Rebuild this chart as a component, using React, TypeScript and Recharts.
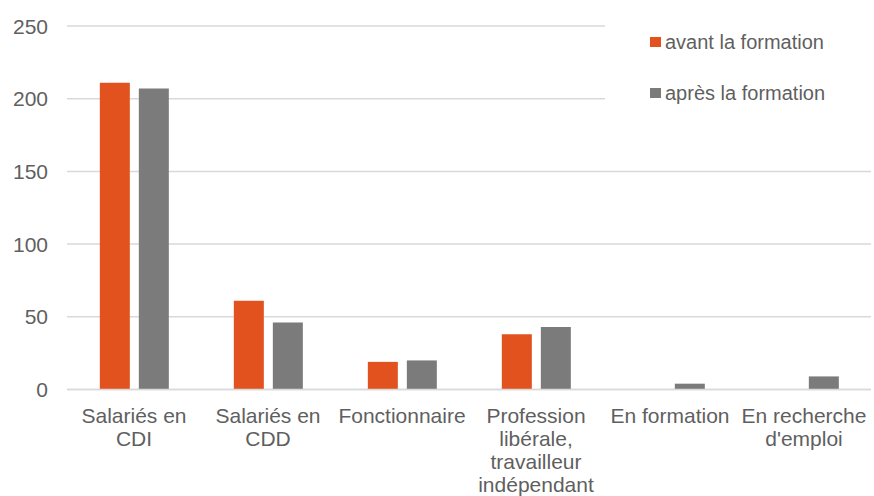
import React from 'react';
import { BarChart, Bar, XAxis, YAxis, CartesianGrid, Legend } from 'recharts';

const categories = [
  'Salariés en\nCDI',
  'Salariés en\nCDD',
  'Fonctionnaire',
  'Profession\nlibérale,\ntravailleur\nindépendant',
  'En formation',
  'En recherche\nd\'emploi',
];
const avantFormation = [211, 61, 19, 38, 0, 0];
const apresFormation = [207, 46, 20, 43, 4, 9];
const yTicks = [0, 50, 100, 150, 200, 250];
const seriesNames = ['avant la formation', 'après la formation'];
const colors = ['#E2521F', '#7B7B7B'];

const data = categories.map((c, i) => ({
  name: c,
  avant: avantFormation[i],
  apres: apresFormation[i],
}));

const FONT = '"Liberation Sans", Arial, sans-serif';
const TEXT = '#5F5F5F';

const XTick = (props: any) => {
  const { x, y, payload } = props;
  const lines = String(payload.value).split('\n');
  return (
    <text x={x} y={y} textAnchor="middle" fill={TEXT} fontSize={21} fontFamily={FONT}>
      {lines.map((l, i) => (
        <tspan key={i} x={x} dy={i === 0 ? 25 : 23.3}>
          {l}
        </tspan>
      ))}
    </text>
  );
};

const YTick = (props: any) => {
  const { y, payload } = props;
  return (
    <text x={48} y={y} dy={7.5} textAnchor="end" fill={TEXT} fontSize={21} fontFamily={FONT}>
      {payload.value}
    </text>
  );
};

const LegendContent = () => (
  <div style={{ fontFamily: FONT, fontSize: 20, color: TEXT, paddingTop: 30, paddingLeft: 45 }}>
    {seriesNames.map((n, i) => (
      <div key={n} style={{ display: 'flex', alignItems: 'center', height: 24, marginBottom: i === 0 ? 27 : 0 }}>
        <span style={{ display: 'inline-block', width: 11, height: 10, background: colors[i], marginRight: 4 }} />
        <span>{n}</span>
      </div>
    ))}
  </div>
);

export default function App() {
  return (
    <div style={{ position: 'absolute', left: 0, top: 0, width: 874, height: 496, background: '#fff' }}>
      <BarChart
        width={874}
        height={496}
        data={data}
        margin={{ top: 26, right: 3, bottom: 0, left: 0 }}
        barCategoryGap="24.5%"
        barGap={9}
      >
        <CartesianGrid vertical={false} stroke="#D9D9D9" strokeWidth={1.5} />
        <XAxis
          dataKey="name"
          interval={0}
          height={106.5}
          axisLine={{ stroke: '#D9D9D9', strokeWidth: 1.5 }}
          tickLine={false}
          tick={<XTick />}
        />
        <YAxis
          width={67}
          domain={[0, 250]}
          ticks={yTicks}
          axisLine={false}
          tickLine={false}
          tick={<YTick />}
        />
        <Legend
          layout="vertical"
          align="center"
          verticalAlign="middle"
          content={<LegendContent />}
          wrapperStyle={{ left: 605, top: 0, width: 269, height: 118, background: '#fff' }}
        />
        <Bar dataKey="avant" name={seriesNames[0]} fill={colors[0]} isAnimationActive={false} />
        <Bar dataKey="apres" name={seriesNames[1]} fill={colors[1]} isAnimationActive={false} />
      </BarChart>
    </div>
  );
}
